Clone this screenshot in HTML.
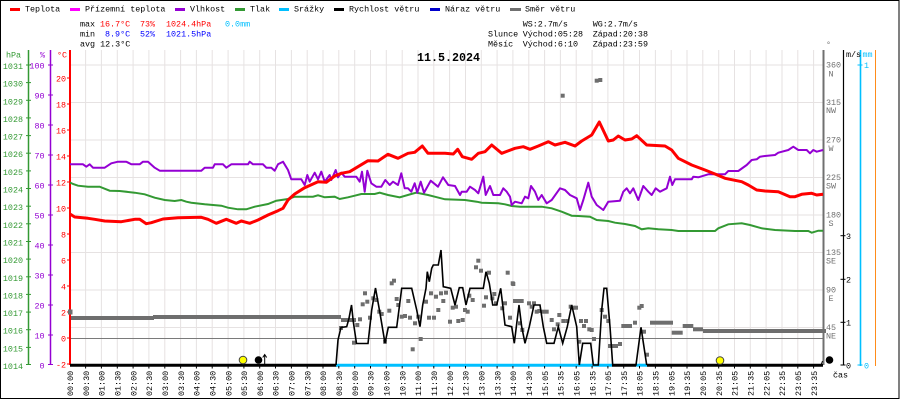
<!DOCTYPE html>
<html><head><meta charset="utf-8">
<style>
html,body{margin:0;padding:0;background:#fff;width:900px;height:400px;overflow:hidden;}
svg{display:block;overflow:hidden;}
text{font-family:"Liberation Mono","DejaVu Sans Mono",monospace;font-size:8.4px;}
.t{fill:#000;}
</style></head><body>
<svg width="900" height="400" viewBox="0 0 900 400" xmlns="http://www.w3.org/2000/svg">
<rect x="0" y="0" width="900" height="400" fill="#fff"/>
<rect x="0.5" y="0.5" width="898.5" height="398" fill="none" stroke="#000" stroke-width="1"/>

<!-- legend -->
<g stroke-width="3">
<line x1="10" y1="9.5" x2="20" y2="9.5" stroke="#ff0000"/>
<line x1="70" y1="9.5" x2="80" y2="9.5" stroke="#ff00ff"/>
<line x1="175" y1="9.5" x2="185" y2="9.5" stroke="#9400d3"/>
<line x1="235" y1="9.5" x2="245" y2="9.5" stroke="#339933"/>
<line x1="279" y1="9.5" x2="289" y2="9.5" stroke="#00bfff"/>
<line x1="334" y1="9.5" x2="344" y2="9.5" stroke="#000"/>
<line x1="430" y1="9.5" x2="440" y2="9.5" stroke="#0000cc"/>
<line x1="510" y1="9.5" x2="521" y2="9.5" stroke="#707070"/>
</g>
<g class="t">
<text x="25" y="11.5">Teplota</text>
<text x="85" y="11.5">Přízemní teplota</text>
<text x="190" y="11.5">Vlhkost</text>
<text x="250" y="11.5">Tlak</text>
<text x="294" y="11.5">Srážky</text>
<text x="349" y="11.5">Rychlost větru</text>
<text x="445" y="11.5">Náraz větru</text>
<text x="525" y="11.5">Směr větru</text>
</g>

<!-- stats -->
<text x="80" y="26.7">max</text>
<text x="100" y="26.7" fill="#ff0000">16.7°C</text>
<text x="140" y="26.7" fill="#ff0000">73%</text>
<text x="166" y="26.7" fill="#ff0000">1024.4hPa</text>
<text x="225" y="26.7" fill="#00bfff">0.0mm</text>
<text x="80" y="36.7">min</text>
<text x="105" y="36.7" fill="#0000ff">8.9°C</text>
<text x="140" y="36.7" fill="#0000ff">52%</text>
<text x="166" y="36.7" fill="#0000ff">1021.5hPa</text>
<text x="80" y="46.7">avg 12.3°C</text>

<text x="522.7" y="26.7">WS:2.7m/s</text>
<text x="592.7" y="26.7">WG:2.7m/s</text>
<text x="488" y="36.7">Slunce</text>
<text x="522.7" y="36.7">Východ:05:28</text>
<text x="592.7" y="36.7">Západ:20:38</text>
<text x="488" y="46.7">Měsíc</text>
<text x="522.7" y="46.7">Východ:6:10</text>
<text x="592.7" y="46.7">Západ:23:59</text>

<!-- grid -->
<g stroke="#e6e2e2" stroke-width="1">
<line x1="85.6" y1="50" x2="85.6" y2="365"/><line x1="101.4" y1="50" x2="101.4" y2="365"/><line x1="117.3" y1="50" x2="117.3" y2="365"/><line x1="133.1" y1="50" x2="133.1" y2="365"/><line x1="148.9" y1="50" x2="148.9" y2="365"/><line x1="164.8" y1="50" x2="164.8" y2="365"/><line x1="180.6" y1="50" x2="180.6" y2="365"/><line x1="196.4" y1="50" x2="196.4" y2="365"/><line x1="212.2" y1="50" x2="212.2" y2="365"/><line x1="228.1" y1="50" x2="228.1" y2="365"/><line x1="243.9" y1="50" x2="243.9" y2="365"/><line x1="259.7" y1="50" x2="259.7" y2="365"/><line x1="275.5" y1="50" x2="275.5" y2="365"/><line x1="291.4" y1="50" x2="291.4" y2="365"/><line x1="307.2" y1="50" x2="307.2" y2="365"/><line x1="323" y1="50" x2="323" y2="365"/><line x1="338.8" y1="50" x2="338.8" y2="365"/><line x1="354.7" y1="50" x2="354.7" y2="365"/><line x1="370.5" y1="50" x2="370.5" y2="365"/><line x1="386.3" y1="50" x2="386.3" y2="365"/><line x1="402.2" y1="50" x2="402.2" y2="365"/><line x1="418" y1="50" x2="418" y2="365"/><line x1="433.8" y1="50" x2="433.8" y2="365"/><line x1="449.6" y1="50" x2="449.6" y2="365"/><line x1="465.5" y1="50" x2="465.5" y2="365"/><line x1="481.3" y1="50" x2="481.3" y2="365"/><line x1="497.1" y1="50" x2="497.1" y2="365"/><line x1="512.9" y1="50" x2="512.9" y2="365"/><line x1="528.8" y1="50" x2="528.8" y2="365"/><line x1="544.6" y1="50" x2="544.6" y2="365"/><line x1="560.4" y1="50" x2="560.4" y2="365"/><line x1="576.2" y1="50" x2="576.2" y2="365"/><line x1="592.1" y1="50" x2="592.1" y2="365"/><line x1="607.9" y1="50" x2="607.9" y2="365"/><line x1="623.7" y1="50" x2="623.7" y2="365"/><line x1="639.5" y1="50" x2="639.5" y2="365"/><line x1="655.4" y1="50" x2="655.4" y2="365"/><line x1="671.2" y1="50" x2="671.2" y2="365"/><line x1="687" y1="50" x2="687" y2="365"/><line x1="702.8" y1="50" x2="702.8" y2="365"/><line x1="718.7" y1="50" x2="718.7" y2="365"/><line x1="734.5" y1="50" x2="734.5" y2="365"/><line x1="750.3" y1="50" x2="750.3" y2="365"/><line x1="766.1" y1="50" x2="766.1" y2="365"/><line x1="782" y1="50" x2="782" y2="365"/><line x1="797.8" y1="50" x2="797.8" y2="365"/><line x1="813.6" y1="50" x2="813.6" y2="365"/>
<line x1="70" y1="65" x2="823" y2="65"/><line x1="70" y1="102.5" x2="823" y2="102.5"/><line x1="70" y1="140" x2="823" y2="140"/><line x1="70" y1="177.5" x2="823" y2="177.5"/><line x1="70" y1="215" x2="823" y2="215"/><line x1="70" y1="252.5" x2="823" y2="252.5"/><line x1="70" y1="290" x2="823" y2="290"/><line x1="70" y1="327.5" x2="823" y2="327.5"/>
</g>
<line x1="70" y1="338.5" x2="823" y2="338.5" stroke="#7a7a7a" stroke-width="1"/>

<!-- title -->
<text x="417" y="61" font-weight="bold" style="font-size:12px" textLength="63" lengthAdjust="spacingAndGlyphs">11.5.2024</text>

<!-- left axes -->
<line x1="28.5" y1="50" x2="28.5" y2="365" stroke="#339933" stroke-width="1.5"/>
<line x1="50.5" y1="50" x2="50.5" y2="365" stroke="#9400d3" stroke-width="1.5"/>
<line x1="70" y1="50" x2="70" y2="365" stroke="#ff0000" stroke-width="2"/>
<text x="6" y="57.3" fill="#339933">hPa</text>
<text x="40" y="57.3" fill="#9400d3">%</text>
<text x="57" y="57.3" fill="#ff0000">°C</text>

<g fill="#339933" text-anchor="end">
<text x="23" y="69">1031</text><text x="23" y="86.6">1030</text><text x="23" y="104.3">1029</text><text x="23" y="121.9">1028</text><text x="23" y="139.6">1027</text><text x="23" y="157.2">1026</text><text x="23" y="174.9">1025</text><text x="23" y="192.5">1024</text><text x="23" y="210.2">1023</text><text x="23" y="227.8">1022</text><text x="23" y="245.5">1021</text><text x="23" y="263.1">1020</text><text x="23" y="280.8">1019</text><text x="23" y="298.4">1018</text><text x="23" y="316.1">1017</text><text x="23" y="333.7">1016</text><text x="23" y="351.4">1015</text><text x="23" y="369">1014</text>
</g>
<g stroke="#339933" stroke-width="1">
<line x1="26" y1="65" x2="31" y2="65"/><line x1="26" y1="82.6" x2="31" y2="82.6"/><line x1="26" y1="100.3" x2="31" y2="100.3"/><line x1="26" y1="117.9" x2="31" y2="117.9"/><line x1="26" y1="135.6" x2="31" y2="135.6"/><line x1="26" y1="153.2" x2="31" y2="153.2"/><line x1="26" y1="170.9" x2="31" y2="170.9"/><line x1="26" y1="188.5" x2="31" y2="188.5"/><line x1="26" y1="206.2" x2="31" y2="206.2"/><line x1="26" y1="223.8" x2="31" y2="223.8"/><line x1="26" y1="241.5" x2="31" y2="241.5"/><line x1="26" y1="259.1" x2="31" y2="259.1"/><line x1="26" y1="276.8" x2="31" y2="276.8"/><line x1="26" y1="294.4" x2="31" y2="294.4"/><line x1="26" y1="312.1" x2="31" y2="312.1"/><line x1="26" y1="329.7" x2="31" y2="329.7"/><line x1="26" y1="347.4" x2="31" y2="347.4"/><line x1="26" y1="364.5" x2="31" y2="364.5"/>
</g>
<g fill="#9400d3" text-anchor="end">
<text x="44.5" y="68.5">100</text><text x="44.5" y="98.5">90</text><text x="44.5" y="128.5">80</text><text x="44.5" y="158.5">70</text><text x="44.5" y="188.5">60</text><text x="44.5" y="218.5">50</text><text x="44.5" y="248.5">40</text><text x="44.5" y="278.5">30</text><text x="44.5" y="308.5">20</text><text x="44.5" y="338.5">10</text><text x="44.5" y="368.5">0</text>
</g>
<g stroke="#9400d3" stroke-width="1">
<line x1="48" y1="65" x2="53" y2="65"/><line x1="48" y1="95" x2="53" y2="95"/><line x1="48" y1="125" x2="53" y2="125"/><line x1="48" y1="155" x2="53" y2="155"/><line x1="48" y1="185" x2="53" y2="185"/><line x1="48" y1="215" x2="53" y2="215"/><line x1="48" y1="245" x2="53" y2="245"/><line x1="48" y1="275" x2="53" y2="275"/><line x1="48" y1="305" x2="53" y2="305"/><line x1="48" y1="335" x2="53" y2="335"/><line x1="48" y1="364.5" x2="53" y2="364.5"/>
</g>
<g fill="#ff0000" text-anchor="end">
<text x="66" y="81.5">20</text><text x="66" y="107.5">18</text><text x="66" y="133.5">16</text><text x="66" y="159.5">14</text><text x="66" y="185.5">12</text><text x="66" y="211.5">10</text><text x="66" y="237.5">8</text><text x="66" y="263.5">6</text><text x="66" y="289.5">4</text><text x="66" y="315.5">2</text><text x="66" y="341.5">0</text><text x="66" y="367.5">-2</text>
</g>
<g stroke="#ff0000" stroke-width="1">
<line x1="67" y1="78" x2="70" y2="78"/><line x1="67" y1="104" x2="70" y2="104"/><line x1="67" y1="130" x2="70" y2="130"/><line x1="67" y1="156" x2="70" y2="156"/><line x1="67" y1="182" x2="70" y2="182"/><line x1="67" y1="208" x2="70" y2="208"/><line x1="67" y1="234" x2="70" y2="234"/><line x1="67" y1="260" x2="70" y2="260"/><line x1="67" y1="286" x2="70" y2="286"/><line x1="67" y1="312" x2="70" y2="312"/><line x1="67" y1="338" x2="70" y2="338"/><line x1="67" y1="364" x2="70" y2="364"/>
</g>

<!-- right axes -->
<line x1="823.5" y1="50" x2="823.5" y2="365" stroke="#707070" stroke-width="2"/>
<line x1="843.5" y1="50" x2="843.5" y2="365" stroke="#000" stroke-width="1.2"/>
<line x1="860.5" y1="50" x2="860.5" y2="366" stroke="#00bfff" stroke-width="1.6"/>
<line x1="875.5" y1="50" x2="875.5" y2="366" stroke="#ff8c1a" stroke-width="1"/>
<text x="826" y="47" fill="#707070">°</text>
<text x="846" y="57" class="t">m/s</text>
<text x="862.5" y="57" fill="#00bfff">mm</text>

<g fill="#707070">
<text x="826" y="67.5">360</text><text x="831" y="76.5" text-anchor="middle">N</text>
<text x="826" y="105">315</text><text x="831" y="113" text-anchor="middle">NW</text>
<text x="826" y="142.5">270</text><text x="831" y="151" text-anchor="middle">W</text>
<text x="826" y="180">225</text><text x="831" y="188.5" text-anchor="middle">SW</text>
<text x="826" y="217.5">180</text><text x="831" y="226" text-anchor="middle">S</text>
<text x="826" y="255">135</text><text x="831" y="263.5" text-anchor="middle">SE</text>
<text x="826" y="292.5">90</text><text x="831" y="301" text-anchor="middle">E</text>
<text x="826" y="330">45</text><text x="831" y="338.5" text-anchor="middle">NE</text>
</g>
<g stroke="#000" stroke-width="1">
<line x1="840.5" y1="365" x2="845.5" y2="365"/><line x1="840.5" y1="322.3" x2="845.5" y2="322.3"/><line x1="840.5" y1="279.3" x2="845.5" y2="279.3"/><line x1="840.5" y1="235.7" x2="845.5" y2="235.7"/>
</g>
<g class="t">
<text x="846" y="368.5">0</text><text x="846" y="325.5">1</text><text x="846" y="282.5">2</text><text x="846" y="239">3</text>
</g>
<line x1="857.5" y1="65" x2="862.5" y2="65" stroke="#00bfff"/>
<line x1="857.5" y1="365" x2="862.5" y2="365" stroke="#00bfff"/>
<text x="864" y="68" fill="#00bfff">1</text>
<text x="864" y="368.5" fill="#00bfff">0</text>
<text x="833" y="377.5" class="t">čas</text>

<!-- wind direction -->
<g fill="#6e6e6e">
<rect x="68" y="309.5" width="4.5" height="5"/>
<rect x="71" y="316" width="83" height="4"/>
<rect x="153" y="315" width="188" height="4"/>
<rect x="703" y="329" width="123" height="4"/>
<rect x="650" y="320.7" width="23" height="4"/>
<rect x="671.7" y="330.7" width="11" height="4"/>
<rect x="682.7" y="324" width="10.6" height="4"/>
<rect x="693" y="327.3" width="10" height="4"/>
<rect x="341" y="318" width="15" height="4"/>
</g>
<g fill="#6e6e6e" transform="translate(-2,-2)">
<rect x="341" y="328" width="4" height="4"/><rect x="354" y="342.7" width="4" height="4"/><rect x="357.3" y="325" width="4" height="4"/><rect x="360" y="319.3" width="4" height="4"/><rect x="362.7" y="304.3" width="4" height="4"/><rect x="365" y="293.3" width="4" height="4"/><rect x="367.3" y="301.7" width="4" height="4"/><rect x="370" y="317.7" width="4" height="4"/><rect x="373.3" y="298.3" width="4" height="4"/><rect x="376.3" y="300" width="4" height="4"/><rect x="379.3" y="311.7" width="4" height="4"/><rect x="381.7" y="314" width="4" height="4"/><rect x="385" y="341.7" width="4" height="4"/><rect x="389.3" y="310.7" width="4" height="4"/><rect x="391.7" y="283.3" width="4" height="4"/><rect x="394" y="280.7" width="4" height="4"/><rect x="396.7" y="299" width="4" height="4"/><rect x="398.3" y="305" width="4" height="4"/><rect x="401.7" y="316.7" width="4" height="4"/><rect x="405" y="316" width="4" height="4"/><rect x="408.3" y="301" width="4" height="4"/><rect x="410" y="317.7" width="4" height="4"/><rect x="412.7" y="349.3" width="4" height="4"/><rect x="415" y="323.3" width="4" height="4"/><rect x="418.3" y="316.7" width="4" height="4"/><rect x="420.7" y="339" width="4" height="4"/><rect x="426" y="301.7" width="4" height="4"/><rect x="429" y="317.7" width="4" height="4"/><rect x="431" y="293.3" width="4" height="4"/><rect x="434" y="317.7" width="4" height="4"/><rect x="436" y="296.7" width="4" height="4"/><rect x="438.3" y="310" width="4" height="4"/><rect x="441" y="293.3" width="4" height="4"/><rect x="443.3" y="301" width="4" height="4"/><rect x="446" y="292.7" width="4" height="4"/><rect x="450" y="321.7" width="4" height="4"/><rect x="452.7" y="307.7" width="4" height="4"/><rect x="456" y="306.7" width="4" height="4"/><rect x="458.3" y="321" width="4" height="4"/><rect x="462.7" y="320" width="4" height="4"/><rect x="465" y="310" width="4" height="4"/><rect x="467.7" y="311.7" width="4" height="4"/><rect x="469.3" y="295.7" width="4" height="4"/><rect x="472.7" y="300" width="4" height="4"/><rect x="476" y="267.3" width="4" height="4"/><rect x="478.3" y="260.7" width="4" height="4"/><rect x="481" y="270.7" width="4" height="4"/><rect x="484" y="305.7" width="4" height="4"/><rect x="486" y="297.3" width="4" height="4"/><rect x="489" y="272.7" width="4" height="4"/><rect x="492.3" y="298.3" width="4" height="4"/><rect x="494.3" y="294" width="4" height="4"/><rect x="496" y="303.3" width="4" height="4"/><rect x="502.3" y="308.3" width="4" height="4"/><rect x="505" y="303.3" width="4" height="4"/><rect x="507.7" y="272.7" width="4" height="4"/><rect x="510" y="317.7" width="4" height="4"/><rect x="512.7" y="283.3" width="4" height="4"/><rect x="515" y="301" width="4" height="4"/><rect x="518.3" y="301" width="4" height="4"/><rect x="521.7" y="301" width="4" height="4"/><rect x="520" y="323.3" width="4" height="4"/><rect x="522.3" y="330" width="4" height="4"/><rect x="529" y="303.3" width="4" height="4"/><rect x="531.7" y="306.7" width="4" height="4"/><rect x="534" y="303.3" width="4" height="4"/><rect x="536.7" y="311.7" width="4" height="4"/><rect x="539.3" y="311" width="4" height="4"/><rect x="543.3" y="311.7" width="4" height="4"/><rect x="546.7" y="311.7" width="4" height="4"/><rect x="551.7" y="320" width="4" height="4"/><rect x="554" y="329.3" width="4" height="4"/><rect x="557.7" y="324.3" width="4" height="4"/><rect x="559.3" y="315" width="4" height="4"/><rect x="563.3" y="321" width="4" height="4"/><rect x="567.3" y="321" width="4" height="4"/><rect x="570.7" y="306.7" width="4" height="4"/><rect x="573.3" y="307.7" width="4" height="4"/><rect x="576" y="307.7" width="4" height="4"/><rect x="579.3" y="341.7" width="4" height="4"/><rect x="581" y="321" width="4" height="4"/><rect x="584" y="326" width="4" height="4"/><rect x="586" y="321" width="4" height="4"/><rect x="589.3" y="329.3" width="4" height="4"/><rect x="591.7" y="330" width="4" height="4"/><rect x="594" y="339" width="4" height="4"/><rect x="601.7" y="310" width="4" height="4"/><rect x="605" y="316.7" width="4" height="4"/><rect x="608.3" y="321" width="4" height="4"/><rect x="610" y="346" width="4" height="4"/><rect x="613" y="346" width="4" height="4"/><rect x="616" y="346" width="4" height="4"/><rect x="620" y="344" width="4" height="4"/><rect x="623.3" y="326" width="4" height="4"/><rect x="626.5" y="326" width="4" height="4"/><rect x="630" y="326" width="4" height="4"/><rect x="635" y="322.7" width="4" height="4"/><rect x="639.3" y="307.7" width="4" height="4"/><rect x="641.7" y="306" width="4" height="4"/><rect x="644" y="331.7" width="4" height="4"/><rect x="647" y="354.7" width="4" height="4"/><rect x="562.7" y="95.7" width="4" height="4"/><rect x="596.7" y="80.7" width="4" height="4"/><rect x="600.3" y="80" width="4" height="4"/><rect x="513.3" y="284" width="4" height="4"/>
</g>

<!-- pressure -->
<polyline fill="none" stroke="#339933" stroke-width="2" points="70,182.5 73,184 78,185.7 88,186.7 99.7,186.7 109.7,190.7 119.7,191 134.7,192.7 144.7,194.3 154.7,197.7 164.7,200 174.7,201 181.3,200 186.3,201.7 191.3,202.7 204.7,204.3 221.3,205.7 228,207.7 238,209.3 246.3,209.3 254.7,206.7 268,204 276.3,200.7 288,199 294.7,196.7 313,196.7 318,195.3 324.7,197.3 334.7,196.7 339.7,199 348,197.3 354.7,195.7 361.3,194 374.7,194 379.7,192.7 388,195 399.7,197.3 411.3,194 416.3,192.7 428,195 434.7,196.7 445,199.3 465,200 476.7,201.7 481.7,202.7 498.3,203.3 505,204.3 511.7,206 520,206.7 541.7,206.7 551.7,208.3 561.7,211.7 571.7,215.7 578.3,216 590,216.7 596.7,220 608.3,221 615,222.7 625,224 635,226 641.7,229.3 648.3,228.3 658.3,229.3 671.7,230 678.3,231 715,231 718.3,228.3 728.3,224.3 741.7,223.3 750,225 761.7,228.3 775,230 795,231 808.3,231 811.7,232.7 818.3,230.7 823,230.7"/>

<!-- humidity -->
<polyline fill="none" stroke="#9400d3" stroke-width="2" stroke-linejoin="round" points="70,164.3 83,164.3 86.3,166.7 89.7,164.3 93,167.7 104.7,167.7 111.3,163.3 118,161.7 126.3,161.7 131.3,164.3 139.7,164.3 143,161.7 148,161.7 154.7,167.7 159.7,170.7 201.3,170.7 204.7,167.7 213,167.7 214.7,164.3 223,164.3 226.3,167.7 231.3,164.3 248,164.3 249.7,161.7 253,164.3 263,164.3 266.3,167.7 271.3,167.7 274.7,170.7 278,164.3 283,161.7 288,170 291.3,179.3 301.3,179.3 304.7,185 307.3,175 309.7,181.7 314.7,172.7 318,179.3 321.3,171.7 324.7,181.7 329.7,175 331.3,180 335.7,170 338,177.3 341.3,172.7 344.7,176.7 356.3,176.7 359.7,181.7 362,171.7 364.7,191.7 367.3,170.7 371.3,183.3 376.3,186.7 381.3,186.7 385.3,180 389.7,185 393,181.7 398,185 401.3,173.3 404.7,188.3 408,188.3 411.3,191.7 414.7,183.3 417.3,192.7 420.7,181.7 424,192.7 430.7,180.7 438,186.7 443,177.3 448.3,185 455,186 460,195 461.7,191.7 466.7,191.7 470,186.7 475,190 478.3,193.3 483.3,176.7 485.7,195 490,186 493.3,195 500,195 503.3,188.3 506.7,191.7 510,196.7 511.7,205 515,201.7 521.7,203.3 525,196.7 528.3,198.3 531,186 535,191.7 538.3,200 541.7,195 546.7,203.3 551.7,200 560,188.3 565,190 570,195 576.7,198.3 580,210 583.3,200 588.3,182.7 591.7,196.7 596.7,205 603.3,210 608.3,201.7 620,200.7 623.3,191.7 626.7,188.3 630,193.3 633.3,188.3 638.3,200 643.3,186 648.3,191.7 651.7,195 655.7,188.3 660,191.7 666.7,188.3 670,176.7 672.3,185 675,179.3 691.7,179.3 693.3,176.7 698.3,177.3 708.3,174.3 725,174.3 728.3,171 738.3,171 746.7,165 751.7,160 756.7,159.3 760,156.7 765,156 775,155 778.3,152.7 788.3,150 793.3,146.7 798.3,150 806.7,150 810,153.3 813.3,150 816.7,151.7 823,150"/>

<!-- temperature -->
<polyline fill="none" stroke="#ff0000" stroke-width="3" stroke-linejoin="round" points="70,214 74.7,217 88,218.3 94.7,219.3 104.7,221 121.3,221.7 134.7,219.3 139.7,219.3 146.3,223.7 151.3,222.7 163,219 178,217.7 201.3,217.3 208,219.3 216.3,223.3 226.3,219.3 236.3,223.3 241.3,221 249.7,223.3 258,220 268,215 278,210.7 283,208.3 288,200 294.7,194 304.7,187.7 318,181.7 326.3,182.3 334.7,176 341.3,173.3 349.7,171.7 358,166.7 368,160.7 378,161 388,154.3 398,158.3 408,153.3 414.7,152.3 422.3,146 428,153.3 445,153.3 453.3,154 457.7,149.3 462.3,156.7 471.7,159.3 478.3,153.3 485,151.7 491.7,145 501.7,153.3 515,148.3 523.3,146.7 530,149.3 538.3,146 548.3,141.7 555,145 565,142.3 575,146 581.7,141 591.7,135 599.3,122 608.3,141 613.3,140 618.3,136 625,140 631.7,139 636.7,135.7 646.7,145 665,146 671.7,150 678.3,158.3 691.7,165 705,170 715,174 725,178.3 741.7,181.7 748.3,185 756.7,190 765,191 778.3,191.7 790,196.7 795,196.7 801.7,194.3 811.7,193.3 816.7,195 823,194.3"/>

<!-- bottom baseline: rain & wind zero -->
<line x1="70" y1="365.2" x2="337" y2="365.2" stroke="#000" stroke-width="3"/>
<line x1="336" y1="365.2" x2="612" y2="365.2" stroke="#00bfff" stroke-width="3"/>
<line x1="612" y1="365.2" x2="636" y2="365.2" stroke="#000" stroke-width="3"/>
<line x1="636" y1="365.2" x2="647" y2="365.2" stroke="#00bfff" stroke-width="3"/>
<line x1="647" y1="365.2" x2="823" y2="365.2" stroke="#000" stroke-width="3"/>

<!-- wind speed -->
<polyline fill="none" stroke="#000" stroke-width="1.6" points="336,365 338,340 341,327.5 346.7,326.7 349,318.3 351.5,305 353.3,321.7 356.5,343.5 368,343.5 371.7,310 375.5,288 380,313.3 385,343.3 388.3,327.3 396.7,327.3 401.7,288.3 411.7,288.3 416.7,310 420,326.7 422.7,305 426,288.3 427.3,271.7 429.3,281.7 431.7,268.3 433.3,265 438.3,265 441,250 443.3,286.7 450.7,288.3 455,305 459.3,287.7 462.7,287.7 466,305 470,288.3 483.3,288.3 486,271.7 489.3,283.3 492.7,305 496.7,305 500.7,288.3 502.7,305 505,325 511.7,326.7 514.3,343.3 519,305 521.7,326.7 525,343.3 529.3,326.7 534,305 540,305 543.3,326.7 546.7,343.3 554,343.3 558.3,326.7 562.7,343.3 567.3,326.7 571.7,305 576.7,326.7 579.3,365 582.7,343.3 590.7,343.3 593.3,365 598.3,365 601.7,310 604,288.3 606.7,288.3 610,326.7 612.7,365 636,365 641,327.3 646.7,365"/>
<polyline fill="none" stroke="#000" stroke-width="1" points="821,365 822.5,361"/>

<!-- bottom ticks -->
<g stroke="#000" stroke-width="1">
<line x1="85.6" y1="366" x2="85.6" y2="368.5"/><line x1="101.4" y1="366" x2="101.4" y2="368.5"/><line x1="117.3" y1="366" x2="117.3" y2="368.5"/><line x1="133.1" y1="366" x2="133.1" y2="368.5"/><line x1="148.9" y1="366" x2="148.9" y2="368.5"/><line x1="164.8" y1="366" x2="164.8" y2="368.5"/><line x1="180.6" y1="366" x2="180.6" y2="368.5"/><line x1="196.4" y1="366" x2="196.4" y2="368.5"/><line x1="212.2" y1="366" x2="212.2" y2="368.5"/><line x1="228.1" y1="366" x2="228.1" y2="368.5"/><line x1="243.9" y1="366" x2="243.9" y2="368.5"/><line x1="259.7" y1="366" x2="259.7" y2="368.5"/><line x1="275.5" y1="366" x2="275.5" y2="368.5"/><line x1="291.4" y1="366" x2="291.4" y2="368.5"/><line x1="307.2" y1="366" x2="307.2" y2="368.5"/><line x1="323" y1="366" x2="323" y2="368.5"/><line x1="338.8" y1="366" x2="338.8" y2="368.5"/><line x1="354.7" y1="366" x2="354.7" y2="368.5"/><line x1="370.5" y1="366" x2="370.5" y2="368.5"/><line x1="386.3" y1="366" x2="386.3" y2="368.5"/><line x1="402.2" y1="366" x2="402.2" y2="368.5"/><line x1="418" y1="366" x2="418" y2="368.5"/><line x1="433.8" y1="366" x2="433.8" y2="368.5"/><line x1="449.6" y1="366" x2="449.6" y2="368.5"/><line x1="465.5" y1="366" x2="465.5" y2="368.5"/><line x1="481.3" y1="366" x2="481.3" y2="368.5"/><line x1="497.1" y1="366" x2="497.1" y2="368.5"/><line x1="512.9" y1="366" x2="512.9" y2="368.5"/><line x1="528.8" y1="366" x2="528.8" y2="368.5"/><line x1="544.6" y1="366" x2="544.6" y2="368.5"/><line x1="560.4" y1="366" x2="560.4" y2="368.5"/><line x1="576.2" y1="366" x2="576.2" y2="368.5"/><line x1="592.1" y1="366" x2="592.1" y2="368.5"/><line x1="607.9" y1="366" x2="607.9" y2="368.5"/><line x1="623.7" y1="366" x2="623.7" y2="368.5"/><line x1="639.5" y1="366" x2="639.5" y2="368.5"/><line x1="655.4" y1="366" x2="655.4" y2="368.5"/><line x1="671.2" y1="366" x2="671.2" y2="368.5"/><line x1="687" y1="366" x2="687" y2="368.5"/><line x1="702.8" y1="366" x2="702.8" y2="368.5"/><line x1="718.7" y1="366" x2="718.7" y2="368.5"/><line x1="734.5" y1="366" x2="734.5" y2="368.5"/><line x1="750.3" y1="366" x2="750.3" y2="368.5"/><line x1="766.1" y1="366" x2="766.1" y2="368.5"/><line x1="782" y1="366" x2="782" y2="368.5"/><line x1="797.8" y1="366" x2="797.8" y2="368.5"/><line x1="813.6" y1="366" x2="813.6" y2="368.5"/>
</g>

<!-- sun / moon markers -->
<circle cx="243" cy="360" r="3.8" fill="#ffff00" stroke="#444" stroke-width="1"/>
<circle cx="258.5" cy="360" r="3.8" fill="#000"/>
<path d="M264.7,365.5 V355 M262.7,357.5 L264.7,354.5 L266.7,357.5" fill="none" stroke="#000" stroke-width="1"/>
<circle cx="720" cy="360.5" r="3.8" fill="#ffff00" stroke="#444" stroke-width="1"/>
<circle cx="829.5" cy="360" r="3.8" fill="#000"/>

<!-- time labels -->
<g class="t" text-anchor="start">
<text transform="translate(73,396) rotate(-90)">00:00</text>
<text transform="translate(88.8,396) rotate(-90)">00:30</text>
<text transform="translate(104.6,396) rotate(-90)">01:00</text>
<text transform="translate(120.5,396) rotate(-90)">01:30</text>
<text transform="translate(136.3,396) rotate(-90)">02:00</text>
<text transform="translate(152.1,396) rotate(-90)">02:30</text>
<text transform="translate(168,396) rotate(-90)">03:00</text>
<text transform="translate(183.8,396) rotate(-90)">03:30</text>
<text transform="translate(199.6,396) rotate(-90)">04:00</text>
<text transform="translate(215.4,396) rotate(-90)">04:30</text>
<text transform="translate(231.3,396) rotate(-90)">05:00</text>
<text transform="translate(247.1,396) rotate(-90)">05:30</text>
<text transform="translate(262.9,396) rotate(-90)">06:00</text>
<text transform="translate(278.7,396) rotate(-90)">06:30</text>
<text transform="translate(294.6,396) rotate(-90)">07:00</text>
<text transform="translate(310.4,396) rotate(-90)">07:30</text>
<text transform="translate(326.2,396) rotate(-90)">08:00</text>
<text transform="translate(342,396) rotate(-90)">08:30</text>
<text transform="translate(357.9,396) rotate(-90)">09:00</text>
<text transform="translate(373.7,396) rotate(-90)">09:30</text>
<text transform="translate(389.5,396) rotate(-90)">10:00</text>
<text transform="translate(405.4,396) rotate(-90)">10:30</text>
<text transform="translate(421.2,396) rotate(-90)">11:00</text>
<text transform="translate(437,396) rotate(-90)">11:30</text>
<text transform="translate(452.8,396) rotate(-90)">12:00</text>
<text transform="translate(468.7,396) rotate(-90)">12:30</text>
<text transform="translate(484.5,396) rotate(-90)">13:00</text>
<text transform="translate(500.3,396) rotate(-90)">13:30</text>
<text transform="translate(516.1,396) rotate(-90)">14:00</text>
<text transform="translate(532,396) rotate(-90)">14:30</text>
<text transform="translate(547.8,396) rotate(-90)">15:05</text>
<text transform="translate(563.6,396) rotate(-90)">15:35</text>
<text transform="translate(579.4,396) rotate(-90)">16:05</text>
<text transform="translate(595.3,396) rotate(-90)">16:35</text>
<text transform="translate(611.1,396) rotate(-90)">17:05</text>
<text transform="translate(626.9,396) rotate(-90)">17:35</text>
<text transform="translate(642.7,396) rotate(-90)">18:05</text>
<text transform="translate(658.6,396) rotate(-90)">18:35</text>
<text transform="translate(674.4,396) rotate(-90)">19:05</text>
<text transform="translate(690.2,396) rotate(-90)">19:35</text>
<text transform="translate(706,396) rotate(-90)">20:05</text>
<text transform="translate(721.9,396) rotate(-90)">20:35</text>
<text transform="translate(737.7,396) rotate(-90)">21:05</text>
<text transform="translate(753.5,396) rotate(-90)">21:35</text>
<text transform="translate(769.3,396) rotate(-90)">22:05</text>
<text transform="translate(785.2,396) rotate(-90)">22:35</text>
<text transform="translate(801,396) rotate(-90)">23:05</text>
<text transform="translate(816.8,396) rotate(-90)">23:35</text>
</g>
</svg>
</body></html>
